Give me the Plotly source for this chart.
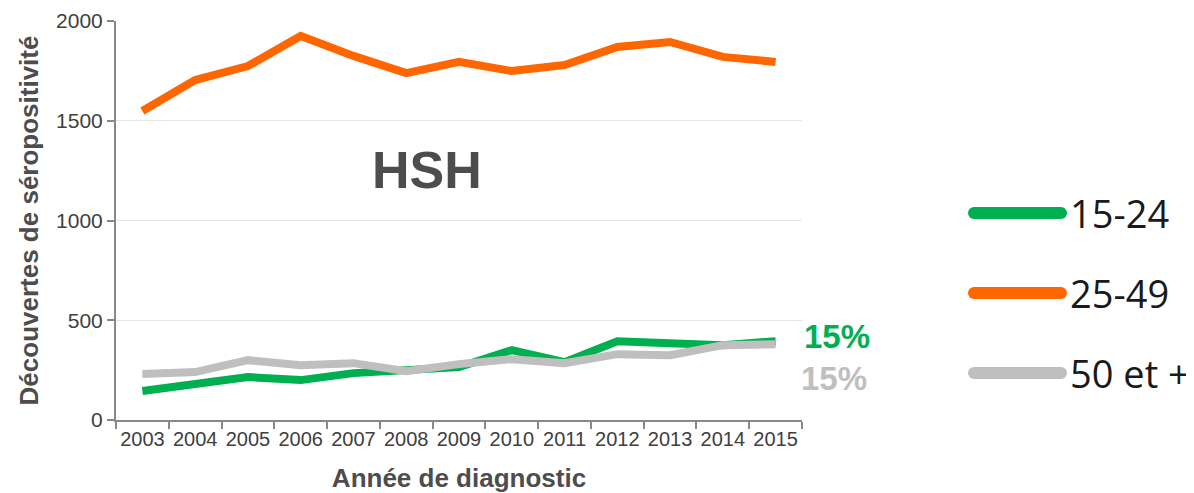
import plotly.graph_objects as go

years = [str(y) for y in range(2003, 2016)]
series_names = ["15-24", "25-49", "50 et +"]
v_15_24 = [145, 180, 215, 200, 235, 250, 265, 350, 290, 395, 385, 375, 395]
v_25_49 = [1549, 1704, 1774, 1925, 1825, 1739, 1795, 1749, 1779, 1870, 1895, 1820, 1795]
v_50p = [230, 240, 300, 275, 285, 245, 280, 305, 285, 330, 325, 375, 380]
colors = ["#00b050", "#ff6600", "#bfbfbf"]
end_labels = ["15%", "15%"]
y_ticks = [0, 500, 1000, 1500, 2000]

OFF = 8  # page body margin
W, H = 1194 - OFF, 493 - OFF
L, T = 116 - OFF, 21 - OFF
R = W - (802 - OFF)
B = H - (420 - OFF)
pw, ph = W - L - R, H - T - B

def px_x(x):
    return (x - OFF - L) / pw

def px_y(y):
    return (H - B - (y - OFF)) / ph

fig = go.Figure()
vals = {"15-24": v_15_24, "25-49": v_25_49, "50 et +": v_50p}
for name, col in zip(series_names, colors):
    fig.add_trace(go.Scatter(x=years, y=vals[name], mode="lines", name=name,
                             line=dict(color=col, width=8), showlegend=False,
                             hoverinfo="skip"))

ann = []
ann.append(dict(text="<b>HSH</b>", x=px_x(427), y=px_y(170), xref="paper", yref="paper",
                xanchor="center", yanchor="middle",
                showarrow=False, font=dict(family="Liberation Sans, Arial", size=52, color="#4d4d4d")))
ann.append(dict(text="<b>" + end_labels[0] + "</b>", x=px_x(802), y=px_y(336), xref="paper", yref="paper",
                xanchor="left", yanchor="middle", showarrow=False,
                font=dict(family="Liberation Sans, Arial", size=33, color=colors[0])))
ann.append(dict(text="<b>" + end_labels[1] + "</b>", x=px_x(799), y=px_y(378), xref="paper", yref="paper",
                xanchor="left", yanchor="middle", showarrow=False,
                font=dict(family="Liberation Sans, Arial", size=33, color=colors[2])))

shapes = []
leg_y = [213, 293, 373]
lx0, lx1, lw = 974, 1061, 12
for name, col, yy in zip(series_names, colors, leg_y):
    shapes.append(dict(type="line", xref="paper", yref="paper",
                       x0=px_x(lx0), x1=px_x(lx1), y0=px_y(yy), y1=px_y(yy),
                       line=dict(color=col, width=lw)))
    for cx in (lx0, lx1):
        shapes.append(dict(type="circle", xref="paper", yref="paper",
                           x0=px_x(cx - lw / 2), x1=px_x(cx + lw / 2),
                           y0=px_y(yy + lw / 2), y1=px_y(yy - lw / 2),
                           fillcolor=col, line=dict(width=0)))
    ann.append(dict(text=name, x=px_x(1068), y=px_y(yy), xref="paper", yref="paper",
                    xanchor="left", yanchor="middle", showarrow=False,
                    font=dict(family="Open Sans", size=38, color="#1a1a1a")))

fig.update_layout(
    width=W, height=H,
    margin=dict(l=L, r=R, t=T, b=B, autoexpand=False),
    paper_bgcolor="white", plot_bgcolor="white",
    annotations=ann, shapes=shapes,
    font=dict(family="Liberation Sans, Arial", color="#404040"),
    xaxis=dict(type="category", tickson="boundaries", ticks="outside", ticklen=7,
               tickcolor="#888888", tickwidth=2, showline=True, linecolor="#888888", linewidth=2,
               showgrid=False, tickangle=0, tickfont=dict(size=20, color="#404040"),
               title=dict(text="<b>Année de diagnostic</b>", font=dict(size=26, color="#4d4d4d"), standoff=20),
               range=[-0.5, 12.5]),
    yaxis=dict(range=[0, 2000], tickvals=y_ticks, ticks="outside", ticklen=7,
               tickcolor="#888888", tickwidth=2, showline=True, linecolor="#888888", linewidth=2,
               showgrid=True, gridcolor="#e6e6e6", gridwidth=1, zeroline=False,
               tickfont=dict(size=21, color="#404040"),
               title=dict(text="<b>Découvertes de séropositivité</b>", font=dict(size=26, color="#4d4d4d"), standoff=10)),
)

fig.write_html("out.html")
